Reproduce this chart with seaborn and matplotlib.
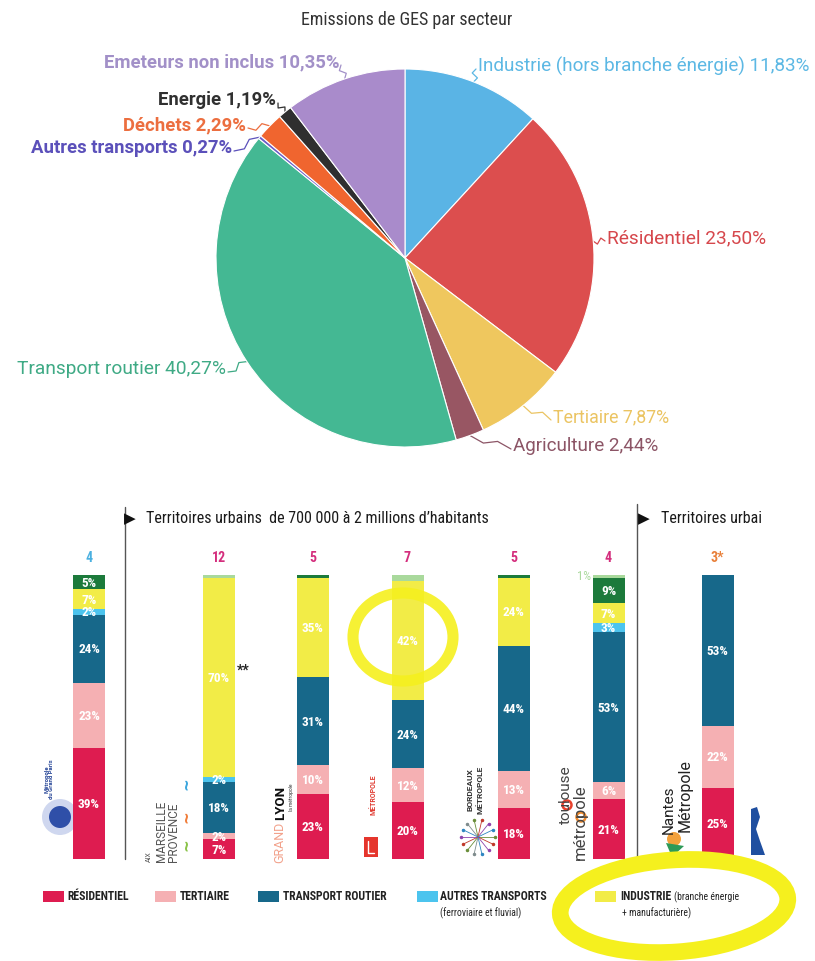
import numpy as np
import pandas as pd
import matplotlib
matplotlib.use("Agg")
import matplotlib.pyplot as plt
from matplotlib import font_manager as fm
from matplotlib.patches import Ellipse, Circle, Rectangle, Polygon
import seaborn as sns

# ------------------------------------------------------------------ data
pie_title = "Emissions de GES par secteur"
pie_labels = ["Industrie (hors branche énergie)", "Résidentiel", "Tertiaire", "Agriculture",
              "Transport routier", "Autres transports", "Déchets", "Energie",
              "Emeteurs non inclus"]
pie_values = [11.83, 23.50, 7.87, 2.44, 40.27, 0.27, 2.29, 1.19, 10.35]

territoires = ["Métropole du Grand Paris", "Aix-Marseille-Provence", "Grand Lyon",
               "Métropole Européenne de Lille", "Bordeaux Métropole",
               "Toulouse Métropole", "Nantes Métropole"]
nb_labels = ["4", "12", "5", "7", "5", "4", "3*"]
residentiel = [39, 7, 23, 20, 18, 21, 25]
tertiaire = [23, 2, 10, 12, 13, 6, 22]
transport_routier = [24, 18, 31, 24, 44, 53, 53]
autres_transports = [2, 2, 0, 0, 0, 3, 0]
industrie = [7, 70, 35, 42, 24, 7, 0]
vert_fonce = [5, 0, 1, 0, 1, 9, 0]
vert_clair = [0, 1, 0, 2, 0, 1, 0]

header_1 = "Territoires urbains  de 700 000 à 2 millions d’habitants"
header_2 = "Territoires urbai"
legend_labels = ["RÉSIDENTIEL", "TERTIAIRE", "TRANSPORT ROUTIER", "AUTRES TRANSPORTS", "INDUSTRIE"]
legend_sub = ["", "", "", "(ferroviaire et fluvial)", "+ manufacturière)"]
legend_extra = "(branche énergie"

# ------------------------------------------------------------------ style
W, H = 815, 962
sns.set_theme(style="white")
names = {f.name for f in fm.fontManager.ttflist}
def pick(cands):
    for c in cands:
        if c in names:
            return c
    return "DejaVu Sans"
NARROW = pick(["Liberation Sans Narrow", "DejaVu Sans Condensed", "Roboto Condensed"])
ROBOTO = pick(["Roboto", "Open Sans", "DejaVu Sans"])
plt.rcParams["font.family"] = [ROBOTO, "DejaVu Sans"]

pie_colors = ["#5AB4E5", "#DC4E4E", "#EFC75E", "#985663", "#44B893",
              "#6A5CC8", "#F0652F", "#2F2F2F", "#A98BCB"]
pie_text_colors = ["#5CB8E4", "#D6474C", "#EBC462", "#8C5566", "#3FAA85",
                   "#5B50BA", "#EC6E3F", "#303030", "#A290C8"]
C_RES, C_TER, C_TR, C_AT, C_IND, C_DG, C_LG = ("#DE1C50", "#F5B0B3", "#17688A", "#4CC4EE",
                                               "#F2EC47", "#1C7A3B", "#A9D99C")

fig = plt.figure(figsize=(W / 100, H / 100), dpi=100)
fig.patch.set_facecolor("white")

def rect(x, y_top, w, h):
    return [x / W, 1 - (y_top + h) / H, w / W, h / H]

# overlay in pixel coordinates
ov = fig.add_axes([0, 0, 1, 1])
ov.set_xlim(0, W)
ov.set_ylim(H, 0)
ov.axis("off")

# ------------------------------------------------------------------ pie
PCX, PCY, PR = 405, 259, 189
ax_pie = fig.add_axes(rect(PCX - 200, PCY - 200, 400, 400))
wedges, _ = ax_pie.pie(pie_values, colors=pie_colors, startangle=90, counterclock=False,
                       radius=1.0, wedgeprops=dict(edgecolor="white", linewidth=0.8))
lim = 200 / PR
ax_pie.set_xlim(-lim, lim)
ax_pie.set_ylim(-lim, lim)
ax_pie.set_aspect("equal")
ax_pie.axis("off")

ov.text(407, 20, pie_title, ha="center", va="center", fontsize=13,
        family=[NARROW, "DejaVu Sans"], color="#333333")

label_pos = [(478, 66, "left"), (607, 238, "left"), (553, 417, "left"), (513, 446, "left"),
             (226, 369, "right"), (232, 148, "right"), (246, 125, "right"),
             (276, 100, "right"), (339, 62, "right")]
label_size = [13.6, 13.8, 12.8, 13.6, 13.8, 13.3, 13.3, 13.3, 13.3]
bold_idx = {5, 6, 7, 8}
inv = ov.transData.inverted()
for i, (w, (tx, ty, ha)) in enumerate(zip(wedges, label_pos)):
    txt = f"{pie_labels[i]} {pie_values[i]:.2f}".replace(".", ",") + "%"
    ov.text(tx, ty, txt, ha=ha, va="center", color=pie_text_colors[i],
            fontsize=label_size[i],
            fontweight="bold" if i in bold_idx else "normal")
    mid = np.deg2rad((w.theta1 + w.theta2) / 2)
    e = inv.transform(ax_pie.transData.transform((np.cos(mid), np.sin(mid))))
    a = np.array([tx + (-2 if ha == "left" else 2), ty + 4])
    d = e - a
    perp = np.array([-d[1], d[0]]) / (np.hypot(*d) + 1e-9)
    pts = np.array([a, a + 0.35 * d + 3 * perp, a + 0.65 * d - 3 * perp, e])
    ov.plot(pts[:, 0], pts[:, 1], color=pie_text_colors[i], lw=0.9)

# ------------------------------------------------------------------ bars
XPOS = [89, 219, 312.5, 407.5, 513.5, 608.5, 717.5]
BAR_W = 32
BASE, TOP = 860, 576
axb = fig.add_axes(rect(0, TOP, W, BASE - TOP))
axb.set_xlim(0, W)
axb.set_ylim(0, 100)
axb.axis("off")

cats = [("Résidentiel", residentiel, C_RES), ("Tertiaire", tertiaire, C_TER),
        ("Transport routier", transport_routier, C_TR),
        ("Autres transports", autres_transports, C_AT), ("Industrie", industrie, C_IND),
        ("vert foncé", vert_fonce, C_DG), ("vert clair", vert_clair, C_LG)]
n = len(territoires)
stack = np.zeros(n)
bottoms, tops = [], []
for name, vals, col in cats:
    bottoms.append(stack.copy())
    stack = stack + np.array(vals, dtype=float)
    tops.append(stack.copy())
mindiff = np.diff(np.sort(XPOS)).min()
for (name, vals, col), top in reversed(list(zip(cats, tops))):
    sns.barplot(x=XPOS, y=top, native_scale=True, orient="x", width=BAR_W / mindiff,
                color=col, saturation=1, errorbar=None, linewidth=0, ax=axb)
axb.set_xlim(0, W)
axb.set_ylim(0, 100)
axb.axis("off")

# highlighter rings
axb.add_patch(Ellipse((403, 638), 100, 88, angle=0, fill=False, ec="#F5F01E", lw=8,
                      alpha=0.9, transform=ov.transData, clip_on=False, zorder=5))
axb.add_patch(Ellipse((674, 907), 228, 92, angle=-4, fill=False, ec="#F5F01E", lw=12,
                      transform=ov.transData, clip_on=False, zorder=5))

for i in range(n):
    for k, (name, vals, col) in enumerate(cats):
        v = vals[i]
        if name == "vert clair":
            if v > 0 and vert_fonce[i] >= 2:
                axb.text(XPOS[i] - BAR_W / 2 - 2, bottoms[k][i] + v, f"{v}%", ha="right",
                         va="center", color=C_LG, fontsize=9, family=[NARROW, "DejaVu Sans"],
                         zorder=10)
            continue
        if v >= 2:
            axb.text(XPOS[i], bottoms[k][i] + v / 2, f"{v}%", ha="center", va="center",
                     color="white", fontsize=9.5, fontweight="bold",
                     family=[NARROW, "DejaVu Sans"], zorder=10)

nb_colors = ["#4AB0E0", "#D42E7D", "#D42E7D", "#D42E7D", "#D42E7D", "#D42E7D", "#E8803A"]
for x, t, c in zip(XPOS, nb_labels, nb_colors):
    ov.text(x, 558, t, ha="center", va="center", color=c, fontsize=10,
            family=[NARROW, "DejaVu Sans"], fontweight="bold")
ov.text(237, 671, "**", ha="left", va="center", fontsize=10, fontweight="bold", color="#222")

# headers and separators
ov.plot([125, 125], [508, 860], color="#555555", lw=1)
ov.plot([637, 637], [505, 860], color="#555555", lw=1)
ov.text(124, 519, "▶", ha="left", va="center", fontsize=11, family="DejaVu Sans", color="#111")
ov.text(146, 519, header_1, ha="left", va="center", fontsize=11.5,
        family=[NARROW, "DejaVu Sans"], color="#1a1a1a")
ov.text(638, 519, "▶", ha="left", va="center", fontsize=11, family="DejaVu Sans", color="#111")
ov.text(661, 519, header_2, ha="left", va="center", fontsize=11.5,
        family=[NARROW, "DejaVu Sans"], color="#1a1a1a")

# ------------------------------------------------------------------ logos
# Paris
ov.add_patch(Circle((60, 818), 18, fc="#CFD7EF", ec="none"))
ov.add_patch(Circle((60, 818), 11, fc="#2F4FA8", ec="none"))
ov.text(49, 779, "Métropole\ndu Grand Paris", rotation=90, ha="center", va="center",
        fontsize=4.2, color="#2C4A9A", fontweight="bold", linespacing=0.9)
# Aix-Marseille
ov.text(149, 862, "AIX", rotation=90, ha="center", va="bottom", fontsize=5, color="#555")
ov.text(161, 862, "MARSEILLE", rotation=90, ha="center", va="bottom", fontsize=8.5, color="#555")
ov.text(173, 862, "PROVENCE", rotation=90, ha="center", va="bottom", fontsize=8.5, color="#555")
for yy, cc in [(784, "#3BA6DD"), (817, "#F07D3A"), (845, "#8BC34A")]:
    ov.text(187, yy, "~", rotation=90, ha="center", va="center", fontsize=11,
            color=cc, fontweight="bold", family="DejaVu Sans")
# Grand Lyon
ov.text(280, 863, "GRAND", rotation=90, ha="center", va="bottom", fontsize=9, color="#F2A28C")
ov.text(281, 820, "LYON", rotation=90, ha="center", va="bottom", fontsize=9.5,
        color="#111", fontweight="bold")
ov.text(291, 797, "la métropole", rotation=90, ha="center", va="center", fontsize=3.5,
        color="#333")
# Lille
ov.text(374, 795, "MÉTROPOLE", rotation=90, ha="center", va="center", fontsize=5,
        color="#E03A30", fontweight="bold")
ov.add_patch(Rectangle((364, 838), 14, 20, fc="#E5352C", ec="none"))
ov.plot([368, 368, 374], [842, 854, 854], color="white", lw=1)
# Bordeaux
ov.text(470, 790, "BORDEAUX", rotation=90, ha="center", va="center", fontsize=6,
        color="#333", fontweight="bold")
ov.text(480, 790, "MÉTROPOLE", rotation=90, ha="center", va="center", fontsize=6,
        color="#333", fontweight="bold")
for ang, cc in zip(np.linspace(0, 2 * np.pi, 14, endpoint=False),
                   ["#6A8E3A", "#C0392B", "#8E44AD", "#2E86C1", "#7F8C8D"] * 3):
    ov.plot([478, 478 + 17 * np.cos(ang)], [838, 838 + 17 * np.sin(ang)], color=cc, lw=0.6)
    ov.plot(478 + 17 * np.cos(ang), 838 + 17 * np.sin(ang), "o", ms=1.5, color=cc)
# Toulouse
ov.text(566, 824, "toulouse", rotation=90, ha="center", va="bottom", fontsize=11, color="#444")
ov.text(580, 860, "métropole", rotation=90, ha="center", va="bottom", fontsize=12, color="#444")
ov.add_patch(Circle((567, 806), 4.5, fill=False, ec="#E8412C", lw=1.8))
ov.add_patch(Circle((581, 818), 4.5, fill=False, ec="#F08A2C", lw=1.8))
# Nantes
ov.text(669, 834, "Nantes", rotation=90, ha="center", va="bottom", fontsize=11, color="#222")
ov.text(685, 832, "Métropole", rotation=90, ha="center", va="bottom", fontsize=11.5, color="#222")
ov.add_patch(Circle((674, 840), 7, fc="#F3A13B", ec="none"))
ov.add_patch(Polygon([[666, 844], [684, 847], [672, 858]], fc="#2E9A57", ec="none"))
# partial next logo
ov.add_patch(Polygon([[751, 810], [757, 808], [760, 818], [756, 830], [760, 842],
                      [765, 856], [751, 856]], fc="#1F4FA0", ec="none"))

# ------------------------------------------------------------------ legend
leg_cols = [C_RES, C_TER, C_TR, C_AT, C_IND]
leg_sq = [43, 155, 258, 417, 595]
leg_tx = [67, 180, 283, 440, 620]
for lab, sub, c, sx, tx in zip(legend_labels, legend_sub, leg_cols, leg_sq, leg_tx):
    ov.add_patch(Rectangle((sx, 892), 21, 11, fc=c, ec="none"))
    t = ov.text(tx, 897, lab, ha="left", va="center", fontsize=8.5, fontweight="bold",
                family=[NARROW, "DejaVu Sans"], color="#222")
    if sub:
        ov.text(tx + (2 if lab == "INDUSTRIE" else 0), 913, sub, ha="left", va="center",
                fontsize=7, family=[NARROW, "DejaVu Sans"], color="#222")
ov.text(674, 897, legend_extra, ha="left", va="center", fontsize=7,
        family=[NARROW, "DejaVu Sans"], color="#222")

fig.savefig("out.png", dpi=100, facecolor="white")
